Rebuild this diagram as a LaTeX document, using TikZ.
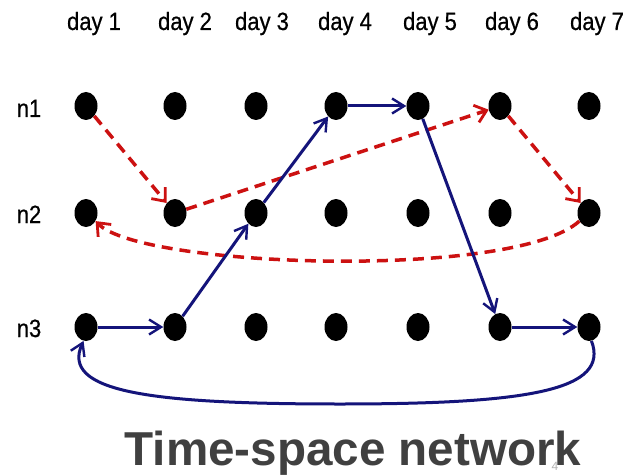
\documentclass[tikz,border=0pt]{standalone}
\usepackage{fontspec}
\setmainfont{Liberation Sans}
\newfontfamily\narrowfont[FakeStretch=0.88,FakeBold=0.6]{Liberation Sans}
\usetikzlibrary{arrows.meta,shapes.geometric}
\definecolor{rd}{HTML}{CC1111}
\definecolor{bl}{HTML}{14147A}
\definecolor{tt}{HTML}{404040}
\begin{document}
\begin{tikzpicture}[x=1pt,y=-1pt,
  dot/.style={ellipse,fill=black,minimum width=23pt,minimum height=28pt,inner sep=0pt},
  lbl/.style={anchor=base,font=\narrowfont\fontsize{25}{28}\selectfont,inner sep=0pt},
  rededge/.style={draw=rd,line width=3.5pt,dash pattern=on 11pt off 7pt,
    -{Straight Barb[length=11pt,width=18pt,line width=2.8pt]}},
  bluedge/.style={draw=bl,line width=3pt,
    -{Straight Barb[length=12pt,width=15pt,line width=2.4pt]}}]
\useasboundingbox (0,0) rectangle (634,476);
\fill[white] (0,0) rectangle (634,476);
% labels
\foreach \x/\t [count=\c] in {94/1,185/2,262/3,345/4,430/5,512/6,597/7}
  \node[lbl] (d\c) at (\x,30) {day \t};
\node[lbl] (r1) at (29,117) {n1};
\node[lbl] (r2) at (29,223) {n2};
\node[lbl] (r3) at (29,337) {n3};
% dots
\foreach \x [count=\c] in {86,175,256,336,418,500,589}
  \foreach \y [count=\r] in {106,213,327}
    \node[dot] (n\r\c) at (\x,\y) {};
% red dashed route
\draw[rededge] (n11) -- (n22);
\draw[rededge] (n22) -- (n16);
\draw[rededge] (n16) -- (n27);
\draw[rededge] (n27.-140) .. controls (515,280) and (140,268) .. (n21.-40);
% blue route
\draw[bluedge] (n31) -- (n32);
\draw[bluedge] (n32) -- (n23);
\draw[bluedge] (n23) -- (n14);
\draw[bluedge] (n14) -- (n15);
\draw[bluedge] (n15) -- (n36);
\draw[bluedge] (n36) -- (n37);
\draw[bluedge] (n37.-80) .. controls (610,390) and (530,404) .. (340,404)
   .. controls (150,404) and (60,392) .. (n31.-100);
% title
\node[anchor=base,inner sep=0pt,text=tt,font=\fontsize{47.6}{50}\selectfont\bfseries] (title) at (353,465) {Time-space network};
\node[anchor=north,inner sep=0pt,text=black!30,font=\fontsize{12}{14}\selectfont] (pg) at (555,462) {4};
\end{tikzpicture}
\end{document}
